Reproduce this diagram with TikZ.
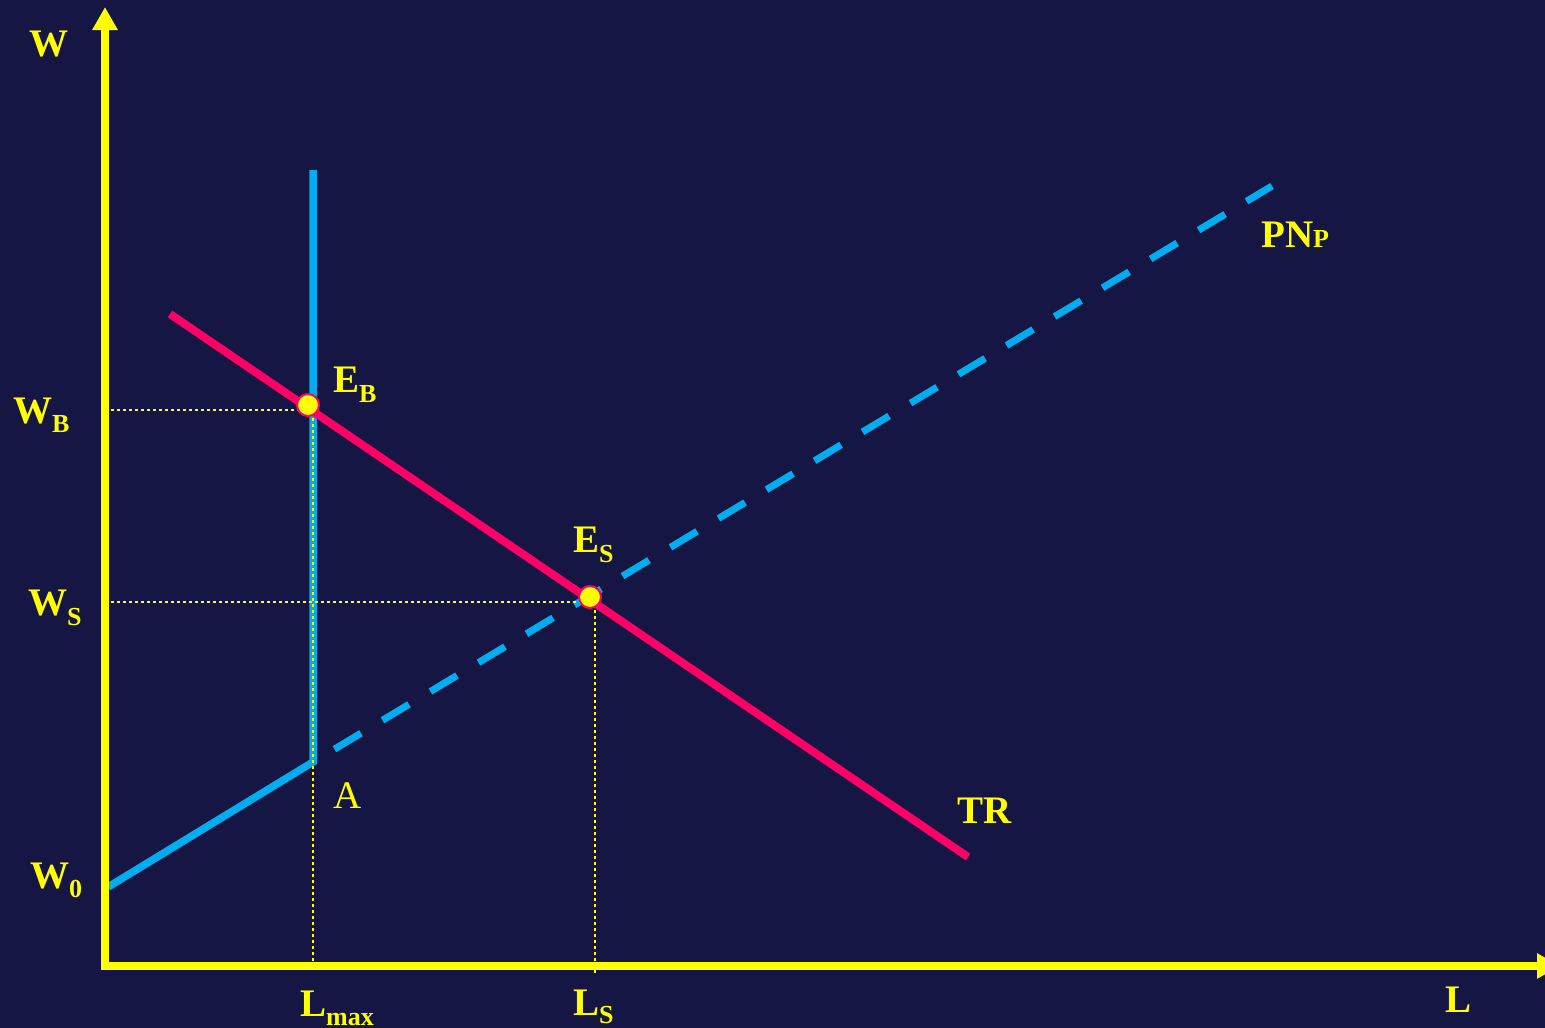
\documentclass[tikz,border=0pt]{standalone}
\usepackage{fontspec}
\setmainfont{Liberation Serif}
\usetikzlibrary{arrows.meta}
\definecolor{bgnavy}{RGB}{22,22,68}
\definecolor{supplyblue}{RGB}{0,174,239}
\definecolor{demandred}{RGB}{255,0,102}
\definecolor{axisyellow}{RGB}{255,255,0}
\newcommand{\lowsub}[2][9pt]{\raisebox{-#1}{\fontsize{26}{26}\selectfont #2}}

\begin{document}
\begin{tikzpicture}[x=1pt, y=-1pt,
    axisline/.style={line width=8pt, axisyellow, -{Triangle[length=23pt, width=24pt]}},
    guide/.style={line width=2.5pt, axisyellow, dash pattern=on 3pt off 3pt},
    eqpoint/.style={circle, fill=axisyellow, draw=demandred, line width=2pt, minimum size=22pt, inner sep=0pt},
    lab/.style={text=axisyellow, font=\fontsize{39}{40}\selectfont\bfseries, inner sep=0pt, anchor=base west}]
    \fill[bgnavy] (0,0) rectangle (1545,1028);
    \path[use as bounding box] (0,0) rectangle (1545,1028);

    \coordinate (Wzero) at (108,887);
    \coordinate (Akink) at (313,762);
    \coordinate (Lmaxtop) at (313,170);
    \coordinate (PNend) at (1272,186);
    \coordinate (TRstart) at (170,314);
    \coordinate (TRend) at (968,857);
    \coordinate (Wtop) at (105,7);
    \coordinate (Lend) at (1560,966);
    \coordinate (WBtick) at (111,410);
    \coordinate (WStick) at (111,602);
    \coordinate (Lmaxguide) at (313,412);
    \coordinate (Lmaxfoot) at (313,962);
    \coordinate (LSguide) at (595,604);
    \coordinate (LSfoot) at (595,975);

    % supply curves
    \draw[supplyblue, line width=7.5pt] (Wzero) -- (Akink) -- (Lmaxtop);
    \draw[supplyblue, line width=7pt, dash pattern=on 31pt off 25pt, dash phase=31pt] (Akink) -- (PNend);
    % demand
    \draw[demandred, line width=8pt] (TRstart) -- (TRend);

    \coordinate (EBc) at (308,405);
    \coordinate (ESc) at (590,597);
    \draw[guide] (WBtick) -- (WBtick -| EBc);
    \draw[guide] (WStick) -- (WStick -| ESc);
    \draw[guide] (Lmaxguide) -- (Lmaxfoot);
    \draw[guide] (LSguide) -- (LSfoot);
    \node[eqpoint] (EB) at (EBc) {};
    \node[eqpoint] (ES) at (ESc) {};

    % axes
    \draw[axisline] (105,968) -- (Wtop);
    \draw[axisline] (101,966) -- (Lend);

    \node[lab] (labW) at (29,56) {W};
    \node[lab] (labWB) at (13,423) {W\lowsub{B}};
    \node[lab] (labWS) at (28,615) {W\lowsub[10pt]{S}};
    \node[lab] (labWzero) at (30,888) {W\lowsub{0}};
    \node[lab] (labLmax) at (300,1016) {L\lowsub{max}};
    \node[lab] (labLS) at (573,1015) {L\lowsub[8pt]{S}};
    \node[lab] (labL) at (1445,1012) {L};
    \node[lab, font=\fontsize{39}{40}\selectfont] (labA) at (333,808) {A};
    \node[lab] (labEB) at (333,392) {E\lowsub[10pt]{B}};
    \node[lab] (labES) at (573,552) {E\lowsub[10pt]{S}};
    \node[lab] (labPN) at (1261,247) {PN\lowsub[0pt]{P}};
    \node[lab] (labTR) at (957,823) {TR};
\end{tikzpicture}
\end{document}
